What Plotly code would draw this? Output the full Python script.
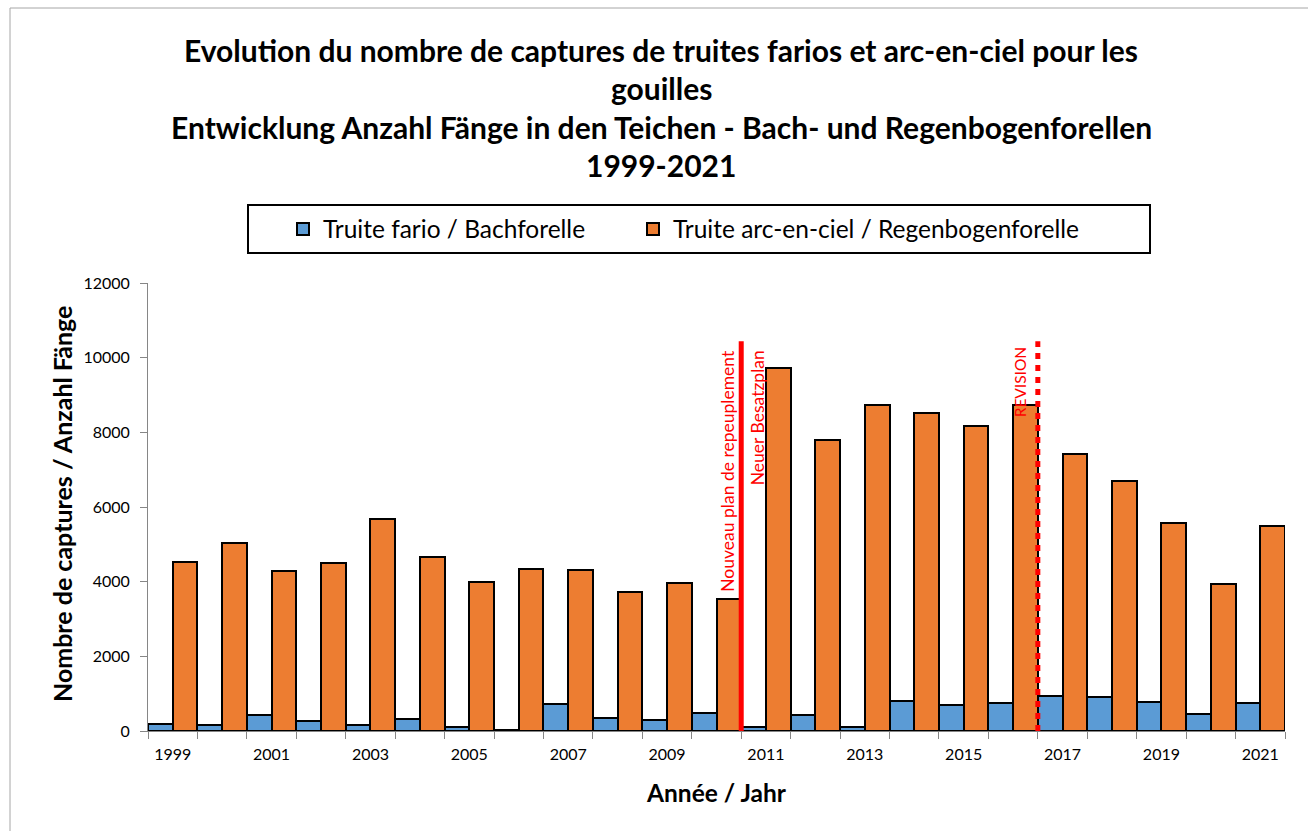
import plotly.graph_objects as go

years = list(range(1999, 2022))
fario = [178, 152, 428, 277, 161, 321, 98, 30, 723, 348, 285, 482, 107, 437, 107, 812, 705, 740, 928, 910, 767, 455, 740]
arc = [4532, 5049, 4291, 4496, 5691, 4648, 3979, 4335, 4300, 3711, 3952, 3541, 9732, 7805, 8742, 8510, 8180, 8733, 7422, 6690, 5566, 3934, 5495]
tick_years = [1999, 2001, 2003, 2005, 2007, 2009, 2011, 2013, 2015, 2017, 2019, 2021]
y_ticks = [0, 2000, 4000, 6000, 8000, 10000, 12000]

plan_x = [2010.5, 2010.5]
plan_y = [0, 10440]
rev_x = [2016.5, 2016.5]
rev_y = [0, 10440]

title_lines = [
    "Evolution du nombre de captures de truites farios et arc-en-ciel pour les",
    "gouilles",
    "Entwicklung Anzahl Fänge in den Teichen - Bach- und Regenbogenforellen",
    "1999-2021",
]

W, H = 1308, 831
L, R, T, B = 148, 23, 283, 100
PW, PH = W - L - R, H - T - B


def px(x):
    return (x - L) / PW


def py(y):
    return (H - B - y) / PH


FONT = "Lato"

fig = go.Figure()
fig.add_trace(go.Bar(
    x=years, y=fario, name="Truite fario / Bachforelle", legend="legend",
    marker=dict(color="#5B9BD5", line=dict(color="black", width=2)),
))
fig.add_trace(go.Bar(
    x=years, y=arc, name="Truite arc-en-ciel / Regenbogenforelle", legend="legend2",
    marker=dict(color="#ED7D31", line=dict(color="black", width=2)),
))
fig.add_trace(go.Scatter(
    x=plan_x, y=plan_y, mode="lines", showlegend=False, hoverinfo="skip",
    line=dict(color="#FF0000", width=5),
))
fig.add_trace(go.Scatter(
    x=rev_x, y=rev_y, mode="lines", showlegend=False, hoverinfo="skip",
    line=dict(color="#FF0000", width=5, dash="6px,6px"),
))

annotations = []
for txt, yy in zip(title_lines, [50, 88, 127, 165]):
    annotations.append(dict(
        text="<b>%s</b>" % txt, x=px(661), y=py(yy), xref="paper", yref="paper",
        xanchor="center", yanchor="middle", showarrow=False,
        font=dict(family=FONT, size=30, color="black"),
    ))
annotations.append(dict(
    text="<b>Nombre de captures / Anzahl Fänge</b>", x=px(62), y=py(504),
    xref="paper", yref="paper", xanchor="center", yanchor="middle",
    textangle=-90, showarrow=False, font=dict(family=FONT, size=25, color="black"),
))
annotations.append(dict(
    text="<b>Année / Jahr</b>", x=px(716), y=py(792),
    xref="paper", yref="paper", xanchor="center", yanchor="middle",
    showarrow=False, font=dict(family=FONT, size=24.5, color="black"),
))
annotations.append(dict(
    text="Nouveau plan de repeuplement", x=plan_x[0], y=py(348), xref="x", yref="paper",
    xanchor="right", yanchor="top", textangle=-90, showarrow=False, xshift=-2,
    font=dict(family=FONT, size=17.5, color="#FF0000"),
))
annotations.append(dict(
    text="Neuer Besatzplan", x=plan_x[0], y=py(348), xref="x", yref="paper",
    xanchor="left", yanchor="top", textangle=-90, showarrow=False, xshift=4,
    font=dict(family=FONT, size=17.5, color="#FF0000"),
))
annotations.append(dict(
    text="REVISION", x=rev_x[0], y=py(344), xref="x", yref="paper",
    xanchor="right", yanchor="top", textangle=-90, showarrow=False, xshift=-7,
    font=dict(family=FONT, size=15.5, color="#FF0000"),
))

shapes = [
    dict(type="rect", xref="paper", yref="paper", x0=px(10), x1=px(1320), y0=py(8), y1=py(840),
         line=dict(color="#A6A6A6", width=1), layer="below"),
    dict(type="rect", xref="paper", yref="paper", x0=px(248), x1=px(1150), y0=py(205), y1=py(253),
         line=dict(color="black", width=2)),
]

legend_common = dict(orientation="h", yanchor="middle", xanchor="left",
                     font=dict(family=FONT, size=24.5, color="black"),
                     bgcolor="rgba(0,0,0,0)", borderwidth=0)

fig.update_layout(
    width=W, height=H,
    margin=dict(l=L, r=R, t=T, b=B, autoexpand=False),
    paper_bgcolor="white", plot_bgcolor="white",
    barmode="group", bargap=0, bargroupgap=0,
    font=dict(family=FONT, color="black"),
    showlegend=True,
    legend=dict(x=px(283), y=py(229), **legend_common),
    legend2=dict(x=px(633), y=py(229), **legend_common),
    annotations=annotations, shapes=shapes,
    xaxis=dict(range=[1998.5, 2021.5], tickmode="array", tickvals=tick_years,
               ticks="", showgrid=False, zeroline=False, showline=True, linecolor="#868686",
               linewidth=1, tickfont=dict(family=FONT, size=16, color="black"),
               ticklabelstandoff=9,
               minor=dict(tick0=1998.5, dtick=1, ticks="outside", ticklen=7, tickcolor="#868686",
                          tickwidth=1, showgrid=False)),
    yaxis=dict(range=[0, 12000], tickmode="array", tickvals=y_ticks, tickformat="d",
               ticks="outside", ticklen=7, tickcolor="#868686", showgrid=False, zeroline=False,
               showline=True, linecolor="#868686", linewidth=1, ticklabelstandoff=7,
               tickfont=dict(family=FONT, size=16, color="black")),
)

fig.write_html("out.html", config={"displayModeBar": False},
               post_script="document.body.style.margin='0';")
